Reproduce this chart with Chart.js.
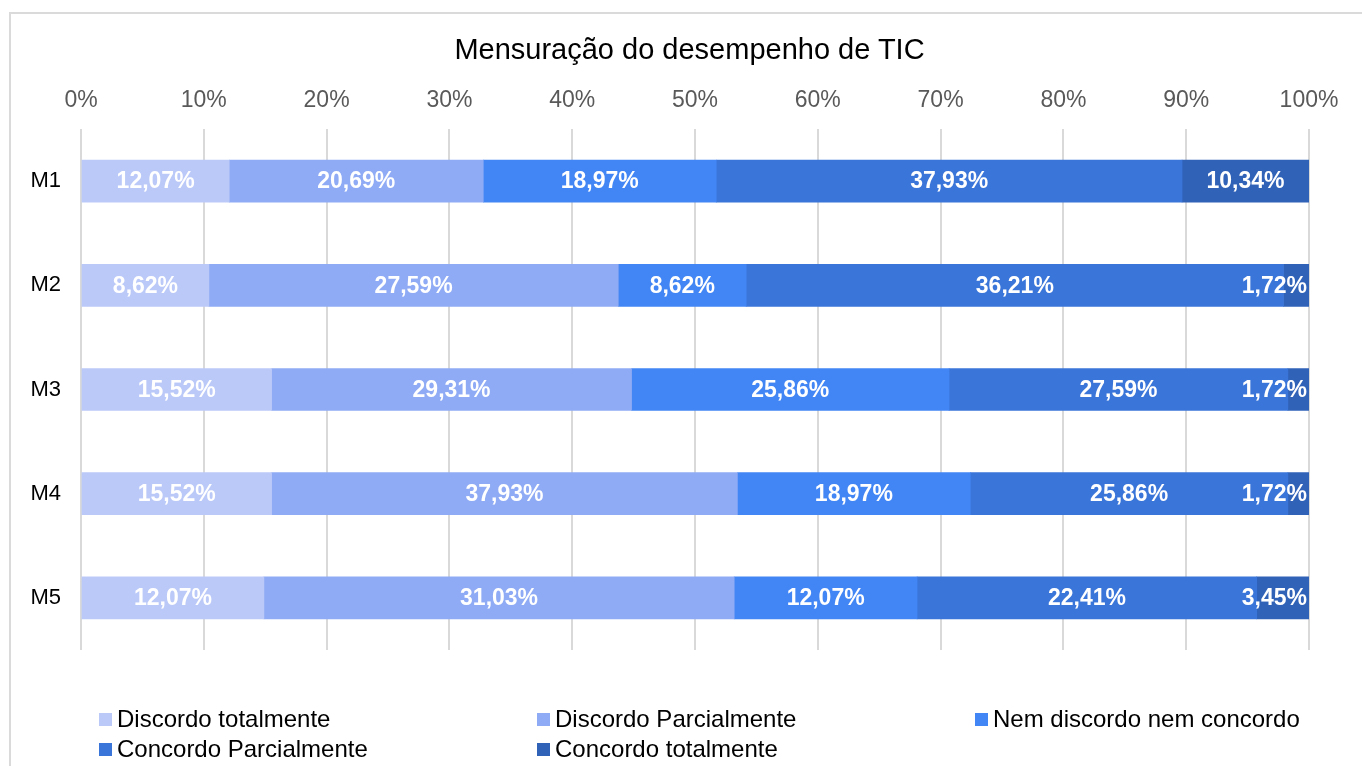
<!DOCTYPE html>
<html>
<head>
<meta charset="utf-8">
<script src="https://cdn.jsdelivr.net/npm/chart.js@4.4.0/dist/chart.umd.min.js"></script>
<style>
html,body{margin:0;padding:0;background:#fff;}
#wrap{position:relative;width:1362px;height:766px;overflow:hidden;font-family:"Liberation Sans",Arial,sans-serif;}
#frame{position:absolute;left:9px;top:12px;width:1400px;height:800px;border:2px solid #dadada;box-sizing:border-box;}
#c{position:absolute;left:0;top:0;width:1362px;height:766px;}
#title{position:absolute;left:0;top:32px;width:1379px;text-align:center;font-size:29px;line-height:35px;color:#000;white-space:nowrap;}
#legend{position:absolute;left:99px;top:704px;display:grid;grid-template-columns:repeat(3,438px);grid-auto-rows:30px;}
.item{display:flex;align-items:center;font-size:24px;color:#000;white-space:nowrap;}
.sw{width:13px;height:13px;margin-right:5px;flex:none;}
</style>
</head>
<body>
<div id="wrap">
  <div id="frame"></div>
  <canvas id="c" width="1362" height="766"></canvas>
  <div id="title"></div>
  <div id="legend"></div>
</div>
<script>
const chartTitle = 'Mensuração do desempenho de TIC';
const categories = ['M1', 'M2', 'M3', 'M4', 'M5'];
const seriesNames = ['Discordo totalmente', 'Discordo Parcialmente', 'Nem discordo nem concordo', 'Concordo Parcialmente', 'Concordo totalmente'];
const discordoTotalmente    = [12.07,  8.62, 15.52, 15.52, 12.07];
const discordoParcialmente  = [20.69, 27.59, 29.31, 37.93, 31.03];
const nemDiscordoNemConcordo = [18.97,  8.62, 25.86, 18.97, 12.07];
const concordoParcialmente  = [37.93, 36.21, 27.59, 25.86, 22.41];
const concordoTotalmente    = [10.34,  1.72,  1.72,  1.72,  3.45];
const seriesColors = ['#bbc9f8', '#8fabf5', '#4285f4', '#3a75d9', '#3062b8'];
const tickLabels = ['0%', '10%', '20%', '30%', '40%', '50%', '60%', '70%', '80%', '90%', '100%'];

const seriesValues = [discordoTotalmente, discordoParcialmente, nemDiscordoNemConcordo, concordoParcialmente, concordoTotalmente];
const totals = categories.map((_, i) => seriesValues.reduce((s, arr) => s + arr[i], 0));
const FONT = '"Liberation Sans", Arial, sans-serif';

function fmt(v) { return v.toFixed(2).replace('.', ',') + '%'; }

const datasets = seriesValues.map((vals, k) => ({
  label: seriesNames[k],
  data: vals.map((v, i) => v / totals[i] * 100),
  rawValues: vals,
  backgroundColor: seriesColors[k],
  borderWidth: 0,
  barThickness: 42
}));

const valueLabels = {
  id: 'valueLabels',
  afterDatasetsDraw(chart) {
    const { ctx, chartArea } = chart;
    ctx.save();
    ctx.beginPath();
    ctx.rect(chartArea.left, chartArea.top, chartArea.right - chartArea.left, chartArea.bottom - chartArea.top);
    ctx.clip();
    ctx.font = 'bold 23px ' + FONT;
    ctx.fillStyle = '#ffffff';
    ctx.textAlign = 'center';
    ctx.textBaseline = 'middle';
    chart.data.datasets.forEach((ds, di) => {
      const meta = chart.getDatasetMeta(di);
      meta.data.forEach((bar, i) => {
        const text = fmt(ds.rawValues[i]);
        const w = ctx.measureText(text).width;
        let cx = (bar.x + bar.base) / 2;
        if (cx + w / 2 > chartArea.right - 2) cx = chartArea.right - 2 - w / 2;
        ctx.fillText(text, cx, bar.y + 1);
      });
    });
    ctx.restore();
  }
};

document.getElementById('title').textContent = chartTitle;

new Chart(document.getElementById('c'), {
  type: 'bar',
  data: { labels: categories, datasets },
  options: {
    indexAxis: 'y',
    responsive: false,
    animation: false,
    devicePixelRatio: 1,
    layout: { padding: { top: 0, left: 0, right: 53, bottom: 116 } },
    plugins: {
      legend: { display: false },
      tooltip: { enabled: false },
      title: { display: false }
    },
    scales: {
      x: {
        position: 'top',
        stacked: true,
        min: 0,
        max: 100,
        afterFit(scale) { scale.height = 129; },
        ticks: {
          stepSize: 10,
          padding: 15,
          color: '#595959',
          font: { family: FONT, size: 23 },
          callback: (v, idx) => tickLabels[idx]
        },
        grid: { color: '#d9d9d9', lineWidth: 2, drawTicks: false },
        border: { display: false }
      },
      y: {
        stacked: true,
        afterFit(scale) { scale.width = 81; },
        ticks: {
          padding: 20,
          color: '#000000',
          font: { family: FONT, size: 22 }
        },
        grid: { display: false, drawTicks: false },
        border: { display: false }
      }
    }
  },
  plugins: [valueLabels]
});

const legendEl = document.getElementById('legend');
seriesNames.forEach((name, k) => {
  const item = document.createElement('div');
  item.className = 'item';
  const sw = document.createElement('span');
  sw.className = 'sw';
  sw.style.background = seriesColors[k];
  const tx = document.createElement('span');
  tx.textContent = name;
  item.appendChild(sw);
  item.appendChild(tx);
  legendEl.appendChild(item);
});
</script>
</body>
</html>
